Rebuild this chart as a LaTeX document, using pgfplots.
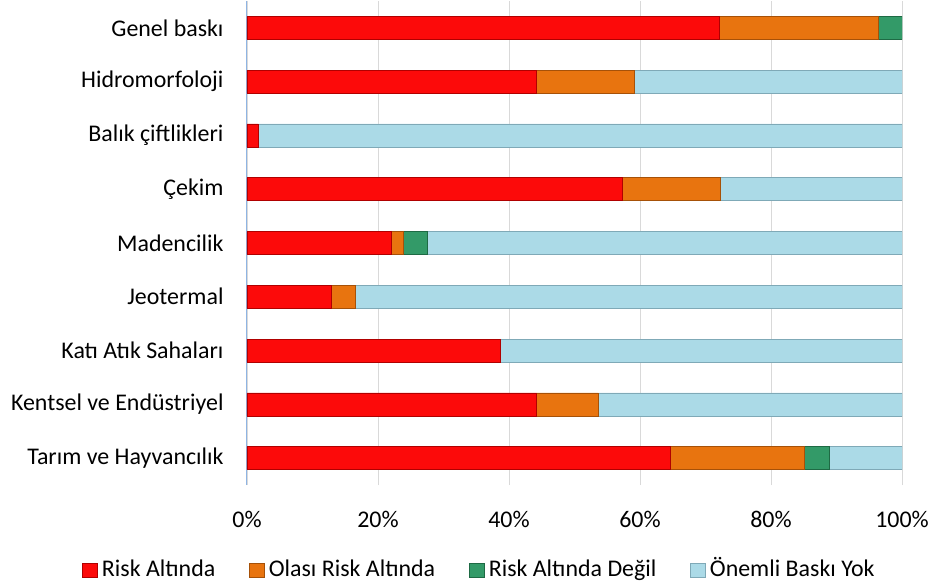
\documentclass[border=0pt]{standalone}
\usepackage{pgfplots}
\pgfplotsset{compat=1.18}
\usepackage{fontspec}
\setmainfont{Carlito}
\definecolor{cred}{HTML}{FC0A0A}
\definecolor{credB}{HTML}{B00000}
\definecolor{cora}{HTML}{E8740F}
\definecolor{coraB}{HTML}{A65108}
\definecolor{cgre}{HTML}{339A68}
\definecolor{cgreB}{HTML}{1E6A44}
\definecolor{cblu}{HTML}{ABDAE7}
\definecolor{cbluB}{HTML}{7FA9B7}
\definecolor{gridc}{HTML}{D9D9D9}
\definecolor{yax}{HTML}{8EB4E3}
\begin{document}
\begin{tikzpicture}
\useasboundingbox (-247bp,-101bp) rectangle (685bp,485bp);
\begin{axis}[
  at={(0,0)}, anchor=south west,
  scale only axis, width=655bp, height=484bp,
  xbar stacked, bar width=23bp,
  xmin=0, xmax=100, ymin=-0.5, ymax=8.5,
  xtick={0,20,40,60,80,100},
  xticklabel={\pgfmathprintnumber{\tick}\%},
  ytick={0,...,8},
  yticklabels={Tarım ve Hayvancılık,Kentsel ve Endüstriyel,Katı Atık Sahaları,Jeotermal,Madencilik,Çekim,Balık çiftlikleri,Hidromorfoloji,Genel baskı},
  /pgf/number format/assume math mode=true,
  tick label style={font=\fontsize{24}{28}\selectfont, text=black},
  xticklabel style={yshift=-23bp},
  yticklabel style={xshift=-20bp},
  xmajorgrids, grid style={gridc, line width=0.8bp},
  axis lines*=left,
  x axis line style={draw=none},
  y axis line style={draw=yax, line width=1bp, -},
  tick style={draw=none},
  legend columns=4,
  legend style={draw=none, fill=none, at={(0.355,-0.176)}, anchor=center,
    font=\fontsize{24}{28}\selectfont,
    nodes={text height=17bp, text depth=5bp},
    /tikz/every even column/.append style={column sep=32bp},
    /tikz/every odd column/.append style={column sep=2bp}},
  legend image code/.code={\path[#1] (0bp,-7bp) rectangle (15bp,7bp);},
]
\addplot[fill=cred, draw=credB, line width=0.6bp] coordinates {
 (64.7,0) (44.2,1) (38.7,2) (12.8,3) (22.1,4) (57.3,5) (1.7,6) (44.2,7) (72.1,8)};
\addplot[fill=cora, draw=coraB, line width=0.6bp] coordinates {
 (20.4,0) (9.4,1) (0,2) (3.7,3) (1.8,4) (14.9,5) (0,6) (14.9,7) (24.3,8)};
\addplot[fill=cgre, draw=cgreB, line width=0.6bp] coordinates {
 (3.8,0) (0,1) (0,2) (0,3) (3.7,4) (0,5) (0,6) (0,7) (3.6,8)};
\addplot[fill=cblu, draw=cbluB, line width=0.6bp] coordinates {
 (11.1,0) (46.4,1) (61.3,2) (83.5,3) (72.4,4) (27.8,5) (98.3,6) (40.9,7) (0,8)};
\legend{Risk Altında,Olası Risk Altında,Risk Altında Değil,Önemli Baskı Yok}
\end{axis}
\end{tikzpicture}
\end{document}
